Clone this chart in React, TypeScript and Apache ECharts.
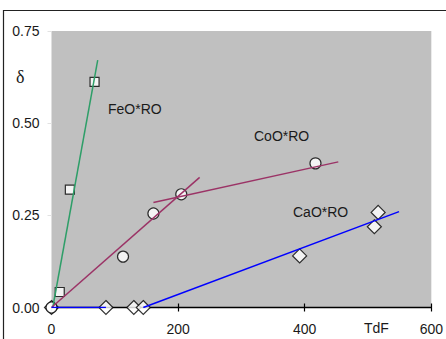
import React, { useEffect, useRef } from "react";
import * as echarts from "echarts";

// Measured points
const feoX = [13, 29, 68];
const feoY = [0.042, 0.32, 0.612];
const cooX = [0, 113, 161, 205, 417];
const cooY = [0, 0.138, 0.255, 0.307, 0.391];
const caoX = [0, 86, 130, 145, 392, 510, 516];
const caoY = [0, 0, 0, 0, 0.14, 0.219, 0.258];

// Trend lines (endpoints)
const feoLineX = [2, 73];
const feoLineY = [0, 0.671];
const cooLine1X = [0, 234];
const cooLine1Y = [0, 0.353];
const cooLine2X = [161, 453];
const cooLine2Y = [0.285, 0.395];
const caoLine1X = [0, 86];
const caoLine1Y = [0, 0];
const caoLine2X = [145, 549];
const caoLine2Y = [0, 0.26];

const yTicks = [0, 0.25, 0.5, 0.75];
const xTicks = [0, 200, 400, 600];

const seriesNames = ["FeO*RO", "CoO*RO", "CaO*RO"];
const xName = "TdF";
const yName = "δ";

const zip = (xs: number[], ys: number[]) => xs.map((x, i) => [x, ys[i]]);

const FONT = "'Liberation Sans', Arial, sans-serif";
const TXT = "#1a1a1a";

export default function App() {
  const ref = useRef<HTMLDivElement>(null);
  useEffect(() => {
    if (!ref.current) return;
    const chart = echarts.init(ref.current, null, { renderer: "svg" });
    const markerStyle = { color: "#ffffff", borderColor: "#000000", borderWidth: 1.2 };
    const lineSeries = (xs: number[], ys: number[], color: string) => ({
      type: "line",
      data: zip(xs, ys),
      showSymbol: false,
      symbol: "none",
      lineStyle: { color, width: 1.5 },
      z: 4,
      silent: true,
    });
    chart.setOption({
      animation: false,
      grid: {
        left: 51.5,
        top: 31,
        right: 9,
        bottom: 31.5,
        show: true,
        backgroundColor: "#c0c0c0",
        borderWidth: 0,
      },
      xAxis: [
        {
          type: "value",
          min: 0,
          max: 600,
          interval: 200,
          axisLine: { show: true, lineStyle: { color: "#000", width: 1.3 } },
          axisTick: { show: true, inside: true, length: 4, lineStyle: { color: "#000", width: 1.2 } },
          splitLine: { show: false },
          axisLabel: {
            margin: 14,
            fontSize: 14,
            fontFamily: FONT,
            color: TXT,
            formatter: (v: number) => (xTicks.includes(v) ? String(v) : ""),
          },
        },
        {
          type: "value",
          min: 0,
          max: 600,
          interval: 200,
          position: "bottom",
          axisLine: { show: false },
          axisTick: { show: true, inside: false, length: 4, lineStyle: { color: "#000", width: 1.2 } },
          splitLine: { show: false },
          axisLabel: { show: false },
        },
      ],
      yAxis: {
        type: "value",
        min: 0,
        max: 0.75,
        interval: 0.25,
        axisLine: { show: false },
        axisTick: { show: true, length: 4, lineStyle: { color: "#e2e2e2" } },
        splitLine: { show: false },
        axisLabel: {
          margin: 12,
          fontSize: 14,
          fontFamily: FONT,
          color: TXT,
          formatter: (v: number) => (yTicks.includes(v) ? v.toFixed(2) : ""),
        },
      },
      series: [
        {
          name: seriesNames[2],
          type: "scatter",
          data: zip(caoX, caoY),
          symbol: "diamond",
          symbolSize: [14, 14],
          itemStyle: markerStyle,
          z: 2,
        },
        {
          name: seriesNames[0],
          type: "scatter",
          data: zip(feoX, feoY),
          symbol: "rect",
          symbolSize: 9,
          itemStyle: markerStyle,
          z: 2,
        },
        {
          name: seriesNames[1],
          type: "scatter",
          data: zip(cooX, cooY),
          symbol: "circle",
          symbolSize: 11,
          itemStyle: markerStyle,
          z: 3,
        },
        lineSeries(feoLineX, feoLineY, "#2e9e68"),
        lineSeries(cooLine1X, cooLine1Y, "#9b3366"),
        lineSeries(cooLine2X, cooLine2Y, "#9b3366"),
        lineSeries(caoLine1X, caoLine1Y, "#0000ff"),
        lineSeries(caoLine2X, caoLine2Y, "#0000ff"),
      ],
      graphic: [
        {
          type: "rect",
          shape: { x: 3.5, y: 10.5, width: 600, height: 500 },
          style: { fill: "none", stroke: "#222", lineWidth: 1.2 },
          z: 10,
          silent: true,
        },
        {
          type: "text",
          left: 108,
          top: 102,
          style: { text: seriesNames[0], fontSize: 14, fontFamily: FONT, fill: TXT },
          z: 10,
        },
        {
          type: "text",
          left: 254,
          top: 129,
          style: { text: seriesNames[1], fontSize: 14, fontFamily: FONT, fill: TXT },
          z: 10,
        },
        {
          type: "text",
          left: 293,
          top: 205,
          style: { text: seriesNames[2], fontSize: 14, fontFamily: FONT, fill: TXT },
          z: 10,
        },
        {
          type: "text",
          left: 364,
          top: 321,
          style: { text: xName, fontSize: 14, fontFamily: FONT, fill: TXT },
          z: 10,
        },
        {
          type: "text",
          left: 16,
          top: 68,
          style: { text: yName, fontSize: 18, fontFamily: "'Liberation Serif', 'DejaVu Serif', serif", fill: TXT },
          z: 10,
        },
      ],
    });
    return () => chart.dispose();
  }, []);
  return (
    <div
      ref={ref}
      style={{ position: "fixed", left: 0, top: 0, width: 446, height: 339, background: "#ffffff" }}
    />
  );
}
